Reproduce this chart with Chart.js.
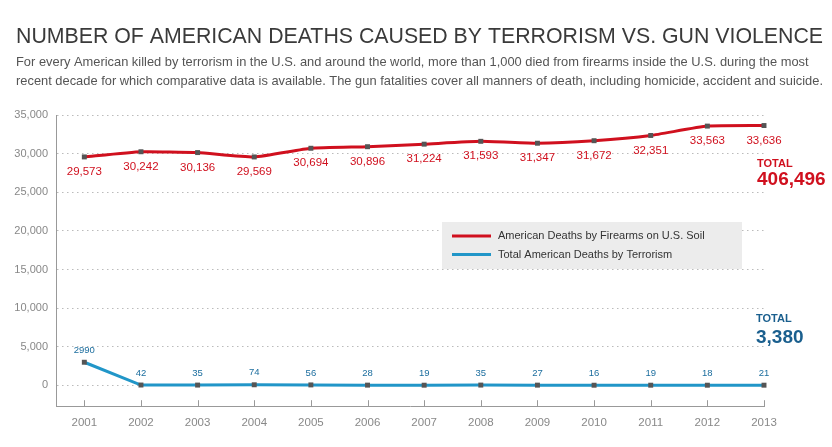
<!DOCTYPE html>
<html>
<head>
<meta charset="utf-8">
<script src="https://cdn.jsdelivr.net/npm/chart.js@4.4.1/dist/chart.umd.min.js"></script>
<style>
  html, body { margin: 0; padding: 0; background: #fff; }
  #wrap { width: 832px; height: 447px; }
</style>
</head>
<body>
<div id="wrap"><canvas id="chart"></canvas></div>
<script>
const years = [2001, 2002, 2003, 2004, 2005, 2006, 2007, 2008, 2009, 2010, 2011, 2012, 2013];
const firearmDeaths = [29573, 30242, 30136, 29569, 30694, 30896, 31224, 31593, 31347, 31672, 32351, 33563, 33636];
const terrorDeaths = [2990, 42, 35, 74, 56, 28, 19, 35, 27, 16, 19, 18, 21];
const yTicks = [0, 5000, 10000, 15000, 20000, 25000, 30000, 35000];
const seriesNames = ["American Deaths by Firearms on U.S. Soil", "Total American Deaths by Terrorism"];
const totals = ["406,496", "3,380"];

const titleText = "NUMBER OF AMERICAN DEATHS CAUSED BY TERRORISM VS. GUN VIOLENCE";
const subtitleLines = [
  "For every American killed by terrorism in the U.S. and around the world, more than 1,000 died from firearms inside the U.S. during the most",
  "recent decade for which comparative data is available. The gun fatalities cover all manners of death, including homicide, accident and suicide."
];

const RED = "#d0101e";
const BLUE = "#2196c8";
const FONT = "'Liberation Sans', Arial, Helvetica, sans-serif";

// heading, squeezed a little to match the narrow Helvetica of the original
const headerPlugin = {
  id: "header",
  afterDraw(chart) {
    const ctx = chart.ctx;
    ctx.save();
    ctx.textBaseline = "middle";
    ctx.textAlign = "left";

    ctx.font = "22px " + FONT;
    ctx.fillStyle = "#3a3a3a";
    let w = ctx.measureText(titleText).width;
    let s = 807 / w;
    ctx.save();
    ctx.translate(16, 37);
    ctx.scale(s, 1);
    ctx.fillText(titleText, 0, 0);
    ctx.restore();

    ctx.font = "13px " + FONT;
    ctx.fillStyle = "#555";
    w = ctx.measureText(subtitleLines[1]).width;
    s = 807 / w;
    subtitleLines.forEach((line, i) => {
      ctx.save();
      ctx.translate(16, 62 + i * 19);
      ctx.scale(s, 1);
      ctx.fillText(line, 0, 0);
      ctx.restore();
    });
    ctx.restore();
  }
};

// little upward ticks on the year axis
const xTicksPlugin = {
  id: "xTickMarks",
  afterDraw(chart) {
    const ctx = chart.ctx;
    const x = chart.scales.x;
    const bottom = chart.chartArea.bottom;
    ctx.save();
    ctx.strokeStyle = "#999";
    ctx.lineWidth = 1;
    years.forEach(yr => {
      const px = Math.round(x.getPixelForValue(yr)) + 0.5;
      ctx.beginPath();
      ctx.moveTo(px, bottom - 6);
      ctx.lineTo(px, bottom);
      ctx.stroke();
    });
    ctx.restore();
  }
};

// value labels, totals and legend box
const labelsPlugin = {
  id: "valueLabels",
  afterDatasetsDraw(chart) {
    const ctx = chart.ctx;
    ctx.save();
    ctx.textAlign = "center";
    ctx.textBaseline = "middle";

    ctx.font = "11.5px " + FONT;
    ctx.fillStyle = RED;
    chart.getDatasetMeta(0).data.forEach((pt, i) => {
      ctx.fillText(firearmDeaths[i].toLocaleString("en-US"), pt.x, pt.y + 15);
    });

    ctx.font = "9.5px " + FONT;
    ctx.fillStyle = "#1b6d9e";
    chart.getDatasetMeta(1).data.forEach((pt, i) => {
      ctx.fillText(String(terrorDeaths[i]), pt.x, pt.y - 12);
    });

    const right = chart.chartArea.right;
    ctx.textAlign = "left";
    ctx.fillStyle = RED;
    ctx.font = "bold 11px " + FONT;
    ctx.fillText("TOTAL", right - 7, 164);
    ctx.font = "bold 19px " + FONT;
    ctx.fillText(totals[0], right - 7, 180);

    ctx.fillStyle = "#1a5f8e";
    ctx.font = "bold 11px " + FONT;
    ctx.fillText("TOTAL", right - 8, 319);
    ctx.font = "bold 19px " + FONT;
    ctx.fillText(totals[1], right - 8, 338);

    // legend
    const lx = 442, ly = 222, lw = 300, lh = 47;
    ctx.fillStyle = "#ececec";
    ctx.fillRect(lx, ly, lw, lh);
    [RED, BLUE].forEach((c, i) => {
      const y = 236 + i * 18.5;
      ctx.strokeStyle = c;
      ctx.lineWidth = 3;
      ctx.beginPath();
      ctx.moveTo(452, y);
      ctx.lineTo(491, y);
      ctx.stroke();
      ctx.fillStyle = "#333";
      ctx.font = "11px " + FONT;
      ctx.fillText(seriesNames[i], 498, y);
    });
    ctx.restore();
  }
};

new Chart(document.getElementById("chart"), {
  type: "line",
  data: {
    labels: years,
    datasets: [
      {
        label: seriesNames[0],
        data: years.map((y, i) => ({ x: y, y: firearmDeaths[i] })),
        borderColor: RED,
        borderWidth: 3,
        tension: 0.15,
        pointStyle: "rect",
        pointRadius: 3.5,
        pointBackgroundColor: "#555",
        pointBorderWidth: 0,
        clip: false
      },
      {
        label: seriesNames[1],
        data: years.map((y, i) => ({ x: y, y: terrorDeaths[i] })),
        borderColor: BLUE,
        borderWidth: 3,
        tension: 0,
        pointStyle: "rect",
        pointRadius: 3.5,
        pointBackgroundColor: "#555",
        pointBorderWidth: 0,
        clip: false
      }
    ]
  },
  options: {
    responsive: true,
    maintainAspectRatio: false,
    animation: false,
    layout: { padding: { top: 115, right: 68, bottom: 7, left: 0 } },
    plugins: {
      legend: { display: false },
      title: { display: false },
      tooltip: { enabled: false }
    },
    scales: {
      x: {
        type: "linear",
        min: 2000.5,
        max: 2013,
        afterBuildTicks: s => { s.ticks = years.map(v => ({ value: v })); },
        ticks: {
          callback: v => String(v),
          color: "#888",
          font: { family: FONT, size: 11.5 },
          padding: 10,
          maxRotation: 0
        },
        grid: { drawOnChartArea: false, drawTicks: false },
        border: { display: true, color: "#999", width: 1 }
      },
      y: {
        min: -2700,
        max: 35000,
        afterBuildTicks: s => { s.ticks = yTicks.map(v => ({ value: v })); },
        afterFit: s => { s.width = 56; },
        ticks: {
          callback: v => v.toLocaleString("en-US"),
          color: "#888",
          font: { family: FONT, size: 11 },
          padding: 8
        },
        grid: {
          color: "#bbb",
          lineWidth: 1,
          drawTicks: false
        },
        border: { display: true, color: "#999", width: 1, dash: [1.5, 3.5] }
      }
    }
  },
  plugins: [headerPlugin, xTicksPlugin, labelsPlugin]
});
</script>
</body>
</html>
